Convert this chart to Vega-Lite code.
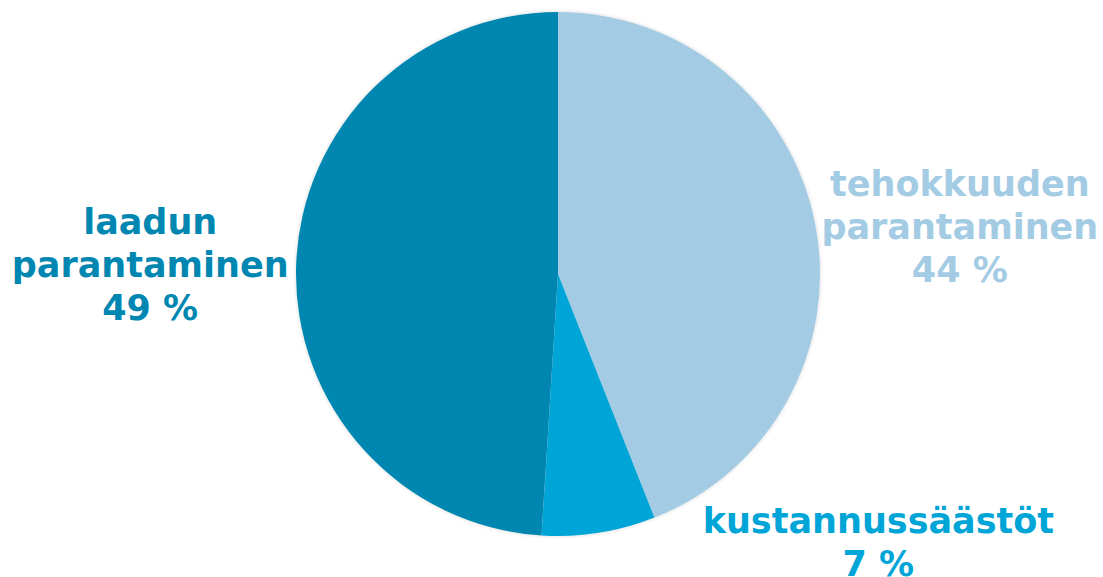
{
  "$schema": "https://vega.github.io/schema/vega-lite/v6.json",
  "autosize": {"type": "none"},
  "width": 1090,
  "height": 548,
  "padding": {"left": 13, "top": 0, "right": 0, "bottom": 29},
  "background": "white",
  "view": {"stroke": null},
  "data": {
    "values": [
      {"category": "tehokkuuden parantaminen", "value": 44, "rank": 1, "label": "tehokkuuden\nparantaminen\n44 %"},
      {"category": "kustannussäästöt", "value": 7, "rank": 2, "label": "kustannussäästöt\n7 %"},
      {"category": "laadun parantaminen", "value": 49, "rank": 3, "label": "laadun\nparantaminen\n49 %"}
    ]
  },
  "encoding": {
    "theta": {"field": "value", "type": "quantitative", "stack": true},
    "order": {"field": "rank", "type": "quantitative"},
    "color": {
      "field": "category",
      "type": "nominal",
      "scale": {
        "domain": ["tehokkuuden parantaminen", "kustannussäästöt", "laadun parantaminen"],
        "range": ["#A3CCE4", "#00A5D7", "#0087B1"]
      },
      "legend": null
    }
  },
  "layer": [
    {
      "mark": {"type": "arc", "outerRadius": 265, "opacity": 0.025, "stroke": null},
      "encoding": {"color": {"value": "#000000"}}
    },
    {
      "mark": {"type": "arc", "outerRadius": 263.5, "opacity": 0.03, "stroke": null},
      "encoding": {"color": {"value": "#000000"}}
    },
    {
      "mark": {"type": "arc", "outerRadius": 262, "stroke": null}
    },
    {
      "mark": {"type": "text", "radius": 405, "dx": 4, "dy": -13, "font": "DejaVu Sans", "fontWeight": "bold", "fontSize": 35, "lineBreak": "\n", "lineHeight": 43, "align": "center", "baseline": "middle"},
      "encoding": {"text": {"condition": {"test": "datum.rank == 1", "field": "label", "type": "nominal"}, "value": ""}}
    },
    {
      "mark": {"type": "text", "radius": 405, "dx": 257, "dy": -152, "font": "DejaVu Sans", "fontWeight": "bold", "fontSize": 35, "lineBreak": "\n", "lineHeight": 43, "align": "center", "baseline": "middle"},
      "encoding": {"text": {"condition": {"test": "datum.rank == 2", "field": "label", "type": "nominal"}, "value": ""}}
    },
    {
      "mark": {"type": "text", "radius": 405, "dx": -3, "dy": -38, "font": "DejaVu Sans", "fontWeight": "bold", "fontSize": 35, "lineBreak": "\n", "lineHeight": 43, "align": "center", "baseline": "middle"},
      "encoding": {"text": {"condition": {"test": "datum.rank == 3", "field": "label", "type": "nominal"}, "value": ""}}
    }
  ]
}
